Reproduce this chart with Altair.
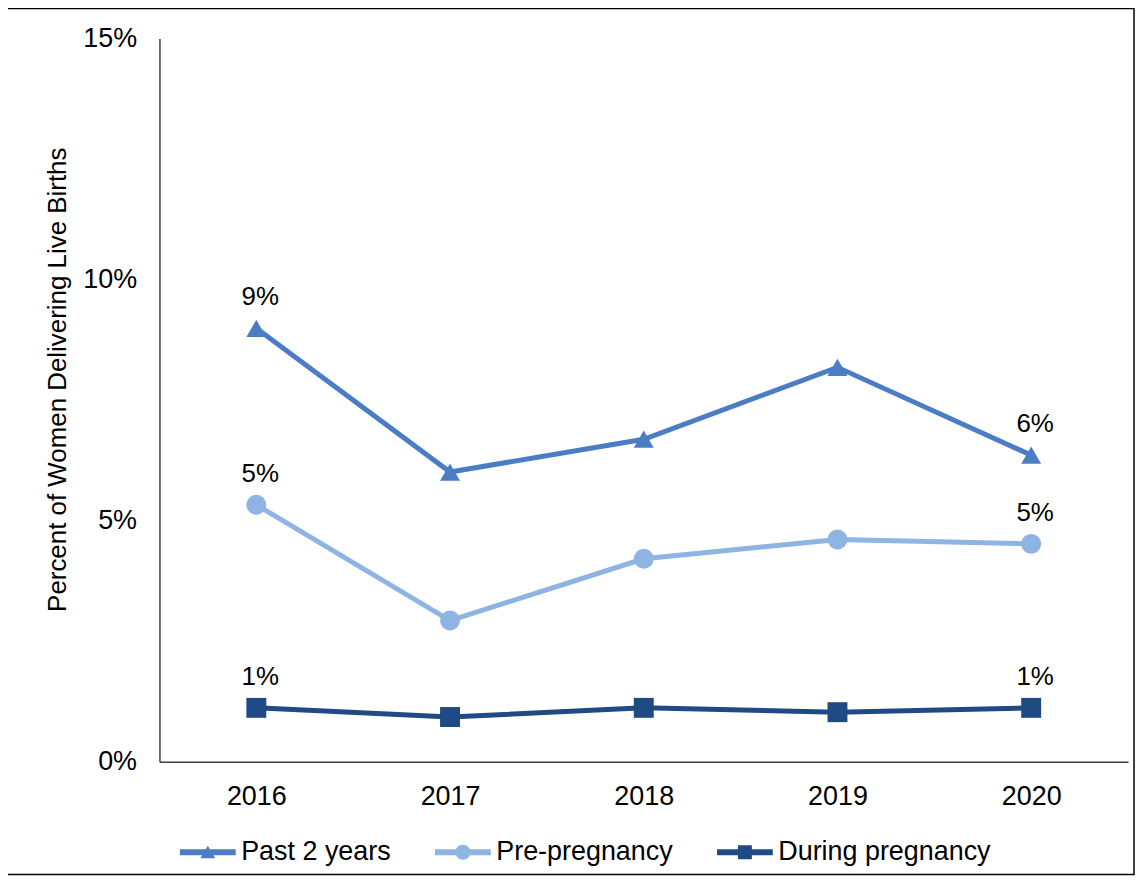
import altair as alt
import pandas as pd

years = ["2016", "2017", "2018", "2019", "2020"]
series_names = ["Past 2 years", "Pre-pregnancy", "During pregnancy"]
past_2_years = [8.99, 6.01, 6.69, 8.18, 6.36]
pre_pregnancy = [5.33, 2.93, 4.21, 4.61, 4.52]
during_pregnancy = [1.12, 0.93, 1.12, 1.03, 1.12]
labelled_years = ["2016", "2020"]
y_ticks = [0, 0.05, 0.10, 0.15]
colors = ["#4A7DC4", "#8DB4E2", "#1F4A84"]
marker_shapes = ["triangle-up", "circle", "square"]

stub = "M-2.8,-0.3H2.8V0.3H-2.8Z "
legend_shapes = [
    stub + "M0,-0.65L0.75,0.6H-0.75Z",
    stub + "M-0.75,0A0.75,0.75 0 1,1 0.75,0A0.75,0.75 0 1,1 -0.75,0Z",
    stub + "M-0.7,-0.7H0.7V0.7H-0.7Z",
]

rows = []
for name, vals in zip(series_names, [past_2_years, pre_pregnancy, during_pregnancy]):
    for yr, v in zip(years, vals):
        rows.append({"year": yr, "series": name, "value": v / 100})
df = pd.DataFrame(rows)

FONT = "Liberation Sans"
W, H = 972, 726

x_enc = alt.X(
    "year:O",
    scale=alt.Scale(type="point", padding=0.5),
    axis=alt.Axis(title=None, labelAngle=0, labelFontSize=27, labelPadding=22,
                  ticks=False, grid=False, domainColor="#404040", domainWidth=1.5,
                  labelColor="black", labelFont=FONT),
)
y_enc = alt.Y(
    "value:Q",
    scale=alt.Scale(domain=[0, 0.15], nice=False, zero=True),
    axis=alt.Axis(values=y_ticks, format=".0%",
                  title="Percent of Women Delivering Live Births",
                  titleFontSize=26, titleFontWeight="normal", titlePadding=12,
                  titleColor="black", titleFont=FONT, titleY=342,
                  labelFontSize=27, labelPadding=23, labelColor="black", labelFont=FONT,
                  ticks=False, grid=False, domainColor="#404040", domainWidth=1.5),
)

color_scale = alt.Scale(domain=series_names, range=colors)

base = alt.Chart(df)

lines = base.mark_line(strokeWidth=5).encode(
    x=x_enc, y=y_enc,
    color=alt.Color("series:N", scale=color_scale, legend=None),
)

points = base.mark_point(filled=True, size=400, opacity=1).encode(
    x=x_enc, y=y_enc,
    color=alt.Color("series:N", scale=color_scale, legend=None),
    shape=alt.Shape("series:N", scale=alt.Scale(domain=series_names, range=marker_shapes), legend=None),
)

leg = alt.Legend(title=None, orient="none", legendX=35, legendY=803, direction="horizontal",
                 columns=3, labelFontSize=27, labelFont=FONT, labelColor="black",
                 symbolSize=400, labelOffset=20, columnPadding=43, symbolStrokeWidth=0,
                 padding=0, labelLimit=400)

legend_layer = base.mark_point(filled=True, opacity=1).encode(
    x=x_enc, y=y_enc,
    color=alt.Color("series:N", scale=color_scale, legend=leg),
    shape=alt.Shape("series:N", scale=alt.Scale(domain=series_names, range=legend_shapes), legend=leg),
).transform_filter("datum.value < 0")

labels = base.mark_text(fontSize=26, font=FONT, dy=-31, dx=4, color="black", baseline="middle").encode(
    x=x_enc, y=y_enc,
    text=alt.Text("value:Q", format=".0%"),
).transform_filter(alt.FieldOneOfPredicate(field="year", oneOf=labelled_years))

border = alt.Chart(pd.DataFrame({"b": [0]})).mark_rect(
    fill="transparent", stroke="black", strokeWidth=1.5
).encode(x=alt.value(-153), x2=alt.value(978), y=alt.value(-30), y2=alt.value(839))

chart = alt.layer(border, lines, points, legend_layer, labels).resolve_scale(
    color="independent", shape="independent"
).properties(
    width=W, height=H,
    autosize=alt.AutoSizeParams(type="none"),
    padding={"left": 152, "top": 29, "right": 11, "bottom": 113},
).configure(
    font=FONT,
    view=alt.ViewConfig(stroke="transparent", strokeWidth=0),
)

chart.save("out.html", embed_options={"renderer": "svg", "actions": False})
